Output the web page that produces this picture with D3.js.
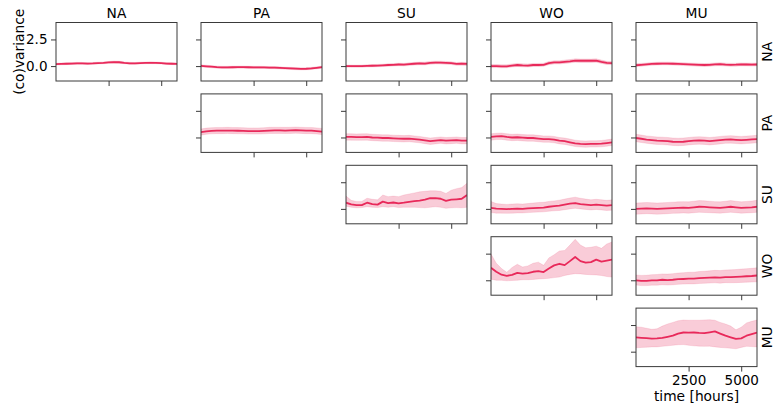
<!DOCTYPE html>
<html>
<head>
<meta charset="utf-8">
<script src="https://cdn.jsdelivr.net/npm/d3@7"></script>
<style>
  html, body { margin: 0; padding: 0; background: #fff; }
  svg { display: block; font-family: "DejaVu Sans", sans-serif; }
</style>
</head>
<body>
<svg id="chart" width="773" height="414"></svg>
<script>
// Time axis shared by every panel (hours)
const hours = [0,250,500,750,1000,1250,1500,1750,2000,2250,2500,2750,3000,3250,3500,3750,4000,4250,4500,4750,5000,5250,5500,5750];
const regions = ["NA", "PA", "SU", "WO", "MU"];
const xTicks = [2500, 5000];
const yTicks = [0, 2.5];

// Mean (co)variance and its band for each region pair
const meanNA_NA = [0.18,0.2,0.22,0.24,0.26,0.25,0.24,0.25,0.28,0.3,0.34,0.38,0.36,0.3,0.26,0.25,0.28,0.3,0.31,0.3,0.27,0.24,0.22,0.2];
const lowNA_NA  = [0.1,0.12,0.14,0.16,0.18,0.17,0.16,0.17,0.2,0.22,0.26,0.29,0.27,0.22,0.18,0.17,0.2,0.22,0.23,0.22,0.19,0.16,0.14,0.12];
const highNA_NA = [0.27,0.29,0.31,0.33,0.35,0.34,0.33,0.34,0.37,0.39,0.43,0.48,0.46,0.39,0.35,0.34,0.37,0.39,0.4,0.39,0.36,0.33,0.31,0.29];

const meanNA_PA = [0.02,-0.02,-0.06,-0.1,-0.12,-0.12,-0.11,-0.1,-0.1,-0.11,-0.12,-0.12,-0.13,-0.14,-0.15,-0.17,-0.2,-0.22,-0.24,-0.26,-0.25,-0.22,-0.16,-0.1];
const lowNA_PA  = [-0.08,-0.12,-0.16,-0.2,-0.22,-0.22,-0.21,-0.2,-0.2,-0.21,-0.22,-0.22,-0.23,-0.24,-0.25,-0.27,-0.3,-0.32,-0.34,-0.36,-0.35,-0.32,-0.26,-0.2];
const highNA_PA = [0.12,0.08,0.04,0,-0.02,-0.02,-0.01,0,0,-0.01,-0.02,-0.02,-0.03,-0.04,-0.05,-0.07,-0.1,-0.12,-0.14,-0.16,-0.15,-0.12,-0.06,0];

const meanNA_SU = [0.0,0.0,-0.01,0.0,0.02,0.03,0.05,0.07,0.1,0.12,0.15,0.13,0.18,0.22,0.25,0.24,0.3,0.33,0.32,0.3,0.27,0.2,0.22,0.2];
const lowNA_SU  = [-0.1,-0.1,-0.11,-0.1,-0.09,-0.08,-0.06,-0.04,-0.02,0,0.03,0.01,0.05,0.09,0.12,0.11,0.17,0.2,0.19,0.17,0.14,0.07,0.08,0.06];
const highNA_SU = [0.1,0.1,0.09,0.1,0.12,0.14,0.16,0.18,0.22,0.24,0.27,0.26,0.31,0.35,0.38,0.38,0.44,0.47,0.46,0.44,0.41,0.34,0.36,0.34];

const meanNA_WO = [0.0,0.0,-0.02,-0.02,0.05,0.1,0.06,0.05,0.1,0.1,0.12,0.28,0.35,0.35,0.4,0.45,0.52,0.5,0.5,0.5,0.52,0.4,0.3,0.28];
const lowNA_WO  = [-0.14,-0.14,-0.16,-0.16,-0.09,-0.04,-0.08,-0.09,-0.04,-0.04,-0.02,0.13,0.2,0.2,0.25,0.3,0.36,0.34,0.34,0.34,0.36,0.25,0.15,0.13];
const highNA_WO = [0.15,0.15,0.13,0.13,0.2,0.25,0.21,0.2,0.25,0.25,0.27,0.43,0.5,0.5,0.56,0.61,0.68,0.66,0.66,0.66,0.68,0.56,0.45,0.43];

const meanNA_MU = [0.08,0.12,0.16,0.2,0.22,0.24,0.24,0.22,0.2,0.18,0.16,0.14,0.12,0.1,0.12,0.16,0.18,0.14,0.12,0.13,0.16,0.15,0.14,0.15];
const lowNA_MU  = [-0.05,-0.01,0.03,0.07,0.09,0.11,0.11,0.09,0.07,0.05,0.02,0,-0.02,-0.04,-0.02,0.02,0.04,0,-0.02,-0.01,0.02,0.01,0,0.01];
const highNA_MU = [0.22,0.26,0.3,0.34,0.36,0.38,0.38,0.36,0.34,0.32,0.3,0.28,0.26,0.24,0.26,0.3,0.32,0.28,0.26,0.27,0.3,0.29,0.28,0.29];

const meanPA_PA = [0.5,0.58,0.62,0.64,0.64,0.65,0.64,0.63,0.62,0.6,0.6,0.6,0.62,0.65,0.66,0.66,0.65,0.66,0.68,0.66,0.64,0.64,0.6,0.55];
const lowPA_PA  = [0.22,0.3,0.34,0.36,0.36,0.37,0.36,0.35,0.34,0.32,0.32,0.32,0.34,0.37,0.38,0.38,0.37,0.38,0.4,0.38,0.36,0.36,0.32,0.27];
const highPA_PA = [0.8,0.88,0.92,0.94,0.94,0.95,0.94,0.93,0.92,0.9,0.9,0.9,0.92,0.95,0.96,0.96,0.95,0.96,0.98,0.96,0.94,0.94,0.9,0.85];

const meanPA_SU = [0.05,0.05,0.03,0.04,0.05,0.0,-0.02,-0.05,-0.05,-0.08,-0.1,-0.12,-0.1,-0.15,-0.2,-0.28,-0.35,-0.3,-0.25,-0.3,-0.28,-0.25,-0.3,-0.3];
const lowPA_SU  = [-0.25,-0.25,-0.27,-0.26,-0.25,-0.3,-0.32,-0.35,-0.35,-0.38,-0.4,-0.42,-0.4,-0.45,-0.5,-0.58,-0.65,-0.6,-0.55,-0.6,-0.58,-0.55,-0.6,-0.6];
const highPA_SU = [0.35,0.35,0.33,0.34,0.35,0.3,0.28,0.25,0.25,0.22,0.2,0.18,0.2,0.15,0.1,0.02,-0.05,0,0.05,0,0.02,0.05,0,0];

const meanPA_WO = [0.05,0.1,0.12,0.05,0.0,0.02,-0.02,-0.05,-0.05,-0.1,-0.15,-0.15,-0.2,-0.3,-0.35,-0.45,-0.55,-0.6,-0.62,-0.6,-0.6,-0.58,-0.52,-0.45];
const lowPA_WO  = [-0.25,-0.2,-0.18,-0.25,-0.3,-0.28,-0.32,-0.35,-0.35,-0.4,-0.45,-0.45,-0.5,-0.6,-0.65,-0.75,-0.85,-0.9,-0.92,-0.9,-0.9,-0.88,-0.82,-0.75];
const highPA_WO = [0.35,0.4,0.42,0.35,0.3,0.32,0.28,0.25,0.25,0.2,0.15,0.15,0.1,0,-0.05,-0.15,-0.25,-0.3,-0.32,-0.3,-0.3,-0.28,-0.22,-0.15];

const meanPA_MU = [-0.05,-0.12,-0.2,-0.25,-0.3,-0.32,-0.35,-0.4,-0.42,-0.4,-0.35,-0.3,-0.28,-0.3,-0.35,-0.3,-0.25,-0.2,-0.18,-0.22,-0.25,-0.22,-0.18,-0.15];
const lowPA_MU  = [-0.4,-0.47,-0.55,-0.6,-0.65,-0.67,-0.7,-0.75,-0.77,-0.75,-0.7,-0.65,-0.63,-0.65,-0.7,-0.65,-0.6,-0.55,-0.53,-0.57,-0.6,-0.57,-0.53,-0.5];
const highPA_MU = [0.3,0.23,0.15,0.1,0.05,0.03,0,-0.05,-0.07,-0.05,0,0.05,0.07,0.05,0,0.05,0.1,0.15,0.17,0.13,0.1,0.13,0.17,0.2];

const meanSU_SU = [0.58,0.42,0.36,0.35,0.58,0.45,0.4,0.68,0.55,0.6,0.52,0.58,0.66,0.72,0.78,0.86,1.0,1.0,0.95,0.75,0.86,0.9,0.95,1.3];
const lowSU_SU  = [0.25,0.15,0.1,0.12,0.2,0.15,0.12,0.2,0.15,0.2,0.12,0.15,0.15,0.15,0.12,0.1,0.15,0.2,0.15,0.05,0.1,0.12,0.1,0.15];
const highSU_SU = [1.2,0.8,0.7,0.7,1.0,0.9,0.85,1.3,1.15,1.2,1.15,1.3,1.4,1.5,1.6,1.65,1.7,1.7,1.65,1.45,1.75,1.9,2.0,2.4];

const meanSU_WO = [0.1,0.02,0.0,-0.02,0.0,0.02,0.0,0.05,0.08,0.1,0.12,0.2,0.25,0.3,0.4,0.5,0.55,0.45,0.4,0.35,0.4,0.35,0.3,0.35];
const lowSU_WO  = [-0.35,-0.4,-0.4,-0.42,-0.4,-0.38,-0.38,-0.35,-0.32,-0.3,-0.28,-0.22,-0.18,-0.15,-0.08,0,0.05,0,-0.05,-0.1,-0.05,-0.1,-0.15,-0.12];
const highSU_WO = [0.7,0.5,0.45,0.42,0.45,0.48,0.45,0.5,0.55,0.6,0.62,0.7,0.75,0.82,0.92,1.02,1.1,1.0,0.92,0.85,0.9,0.85,0.8,0.85];

const meanSU_MU = [0.0,0.02,0.05,0.03,0.0,0.02,0.05,0.08,0.1,0.12,0.1,0.15,0.2,0.18,0.15,0.12,0.1,0.15,0.2,0.15,0.1,0.12,0.15,0.2];
const lowSU_MU  = [-0.5,-0.48,-0.45,-0.47,-0.5,-0.48,-0.45,-0.42,-0.4,-0.38,-0.4,-0.36,-0.32,-0.34,-0.36,-0.38,-0.4,-0.36,-0.32,-0.36,-0.4,-0.38,-0.36,-0.32];
const highSU_MU = [0.55,0.57,0.6,0.58,0.55,0.57,0.6,0.63,0.66,0.68,0.66,0.72,0.78,0.76,0.72,0.68,0.66,0.72,0.78,0.72,0.66,0.7,0.74,0.8];

const meanWO_WO = [1.17,0.8,0.52,0.42,0.5,0.7,0.62,0.68,0.8,0.85,0.77,1.1,1.4,1.55,1.42,1.8,2.19,1.8,1.65,1.7,1.94,1.75,1.85,1.94];
const lowWO_WO  = [0.1,0.0,0.0,-0.05,-0.02,0.0,0.05,0.05,0.08,0.12,0.15,0.18,0.25,0.3,0.45,0.55,0.62,0.6,0.55,0.52,0.5,0.45,0.35,0.3];
const highWO_WO = [2.47,1.6,1.1,0.75,1.2,1.5,1.25,1.35,1.6,1.7,1.4,2.1,2.4,2.75,2.8,3.3,3.85,3.3,3.05,3.1,3.2,3.0,3.4,3.6];

const meanWO_MU = [0.0,-0.05,-0.05,0.0,0.0,0.05,0.02,0.05,0.1,0.12,0.15,0.15,0.2,0.22,0.25,0.28,0.25,0.3,0.3,0.32,0.35,0.38,0.4,0.45];
const lowWO_MU  = [-0.45,-0.5,-0.5,-0.46,-0.46,-0.42,-0.45,-0.42,-0.38,-0.36,-0.34,-0.34,-0.3,-0.28,-0.26,-0.24,-0.27,-0.22,-0.23,-0.22,-0.2,-0.18,-0.17,-0.14];
const highWO_MU = [0.5,0.46,0.47,0.53,0.54,0.6,0.58,0.62,0.68,0.71,0.75,0.76,0.82,0.85,0.89,0.93,0.91,0.97,0.98,1.01,1.05,1.09,1.12,1.18];

const meanMU_MU = [1.34,1.3,1.27,1.23,1.25,1.3,1.4,1.5,1.7,1.8,1.78,1.8,1.76,1.74,1.82,1.9,1.7,1.5,1.35,1.2,1.25,1.5,1.65,1.8];
const lowMU_MU  = [0.36,0.4,0.42,0.45,0.45,0.5,0.55,0.6,0.65,0.67,0.6,0.55,0.52,0.5,0.52,0.45,0.4,0.36,0.32,0.27,0.4,0.5,0.48,0.45];
const highMU_MU = [2.34,2.3,2.2,2.1,2.15,2.4,2.6,2.75,2.9,2.97,2.95,2.95,2.95,2.98,3.0,2.95,2.75,2.6,2.4,2.05,2.3,2.7,2.85,2.97];

// Upper-triangular grid: [row, col, mean, low, high]
const panels = [
  [0,0,meanNA_NA,lowNA_NA,highNA_NA],[0,1,meanNA_PA,lowNA_PA,highNA_PA],[0,2,meanNA_SU,lowNA_SU,highNA_SU],
  [0,3,meanNA_WO,lowNA_WO,highNA_WO],[0,4,meanNA_MU,lowNA_MU,highNA_MU],
  [1,1,meanPA_PA,lowPA_PA,highPA_PA],[1,2,meanPA_SU,lowPA_SU,highPA_SU],[1,3,meanPA_WO,lowPA_WO,highPA_WO],
  [1,4,meanPA_MU,lowPA_MU,highPA_MU],
  [2,2,meanSU_SU,lowSU_SU,highSU_SU],[2,3,meanSU_WO,lowSU_WO,highSU_WO],[2,4,meanSU_MU,lowSU_MU,highSU_MU],
  [3,3,meanWO_WO,lowWO_WO,highWO_WO],[3,4,meanWO_MU,lowWO_MU,highWO_MU],
  [4,4,meanMU_MU,lowMU_MU,highMU_MU]
];

// Layout
const colLeft = 56, colStep = 145, panelW = 121;
const rowTop = 22.5, rowStep = 71.4, panelH = 58.5;
const lineColor = "#e8295a";
const frameColor = "#3a3a3a";
const fontSize = 13.5;

const svg = d3.select("#chart");
svg.append("rect").attr("width", 773).attr("height", 414).attr("fill", "#fff");

const x = d3.scaleLinear().domain([0, 5750]).range([0, panelW]);
const y = d3.scaleLinear().domain([-1.40, 4.09]).range([panelH, 0]);

const area = d3.area()
  .x((d, i) => x(hours[i]))
  .y0(d => y(d[0]))
  .y1(d => y(d[1]));
const line = d3.line()
  .x((d, i) => x(hours[i]))
  .y(d => y(d));

panels.forEach(([r, c, mean, low, high]) => {
  const g = svg.append("g")
    .attr("transform", `translate(${colLeft + c * colStep},${rowTop + r * rowStep})`);

  const clipId = `clip-${r}-${c}`;
  g.append("clipPath").attr("id", clipId)
    .append("rect").attr("width", panelW).attr("height", panelH);

  const plot = g.append("g").attr("clip-path", `url(#${clipId})`);
  plot.append("path")
    .datum(low.map((v, i) => [v, high[i]]))
    .attr("d", area)
    .attr("fill", lineColor)
    .attr("fill-opacity", 0.24)
    .attr("stroke", lineColor)
    .attr("stroke-opacity", 0.12)
    .attr("stroke-width", 1);
  plot.append("path")
    .datum(mean)
    .attr("d", line)
    .attr("fill", "none")
    .attr("stroke", lineColor)
    .attr("stroke-width", 1.8)
    .attr("stroke-linejoin", "round");

  // x axis (labels only on the bottom-right panel)
  const showX = (r === 4 && c === 4);
  const xa = g.append("g")
    .attr("transform", `translate(0,${panelH})`)
    .call(d3.axisBottom(x).tickValues(xTicks).tickSize(5).tickPadding(3.5)
      .tickFormat(showX ? d3.format("d") : () => ""));
  // y axis (labels only on the top-left panel)
  const showY = (r === 0 && c === 0);
  const ya = g.append("g")
    .call(d3.axisLeft(y).tickValues(yTicks).tickSize(5).tickPadding(3.5)
      .tickFormat(showY ? d3.format(".1f") : () => ""));

  [xa, ya].forEach(a => {
    a.select(".domain").remove();
    a.selectAll(".tick line").attr("stroke", frameColor).attr("stroke-width", 1);
    a.selectAll(".tick text").attr("fill", "#000")
      .style("font-size", fontSize + "px")
      .style("font-family", "DejaVu Sans, sans-serif");
  });

  g.append("rect")
    .attr("width", panelW).attr("height", panelH)
    .attr("fill", "none").attr("stroke", frameColor).attr("stroke-width", 1);

  // column title on the top row
  if (r === 0) {
    g.append("text")
      .attr("x", panelW / 2).attr("y", -4.5)
      .attr("text-anchor", "middle")
      .style("font-size", "13.8px")
      .text(regions[c]);
  }
  // row label on the right column
  if (c === 4) {
    g.append("text")
      .attr("transform", `translate(${panelW + 14.5},${panelH / 2}) rotate(-90)`)
      .attr("text-anchor", "middle")
      .style("font-size", "13.8px")
      .text(regions[r]);
  }
  if (showY) {
    g.append("text")
      .attr("transform", `translate(-32,${panelH / 2}) rotate(-90)`)
      .attr("text-anchor", "middle")
      .style("font-size", "13.8px")
      .text("(co)variance");
  }
  if (showX) {
    g.append("text")
      .attr("x", panelW / 2).attr("y", panelH + 34)
      .attr("text-anchor", "middle")
      .style("font-size", "13.8px")
      .text("time [hours]");
  }
});
</script>
</body>
</html>
